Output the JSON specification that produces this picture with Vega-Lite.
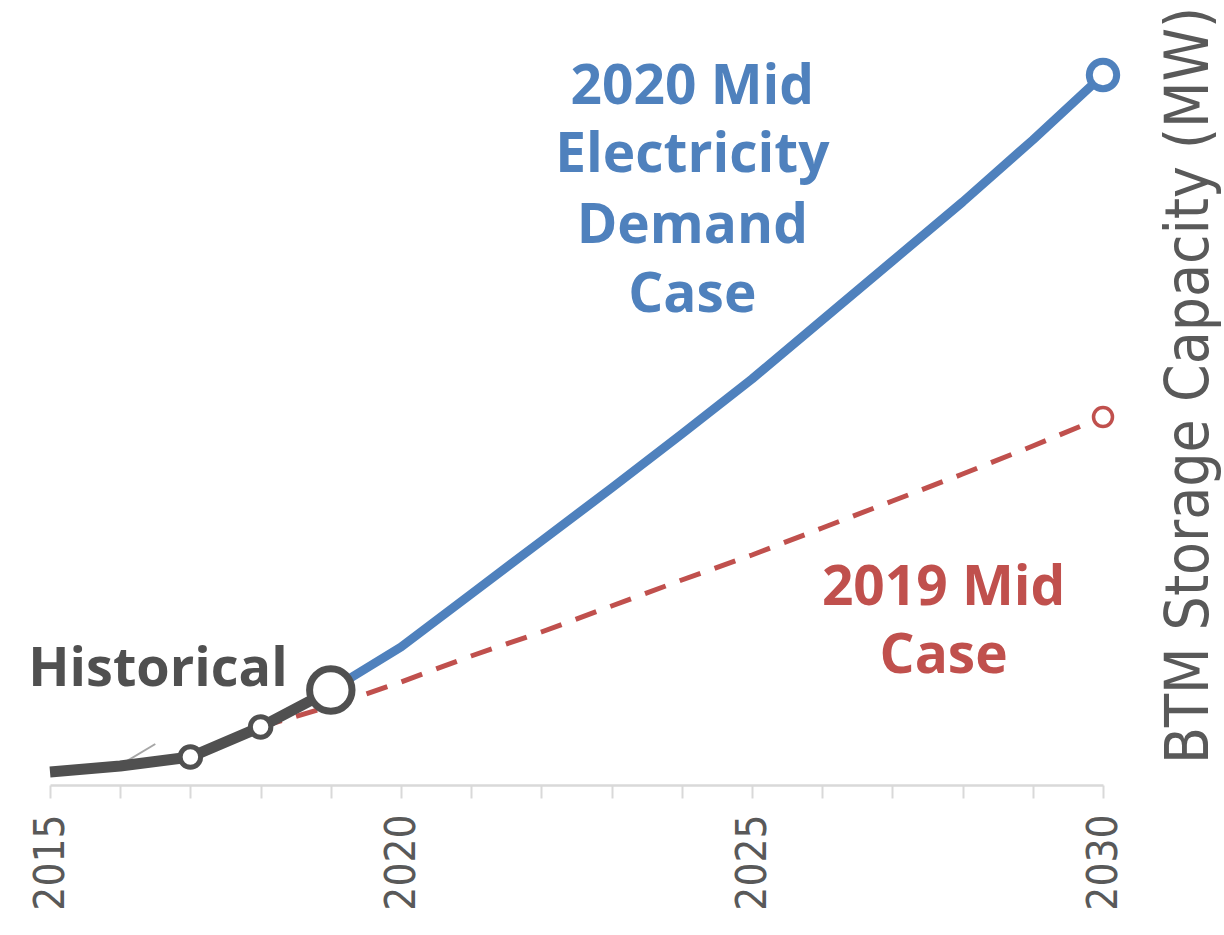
{
  "$schema": "https://vega.github.io/schema/vega-lite/v6.json",
  "autosize": "none",
  "width": 1053,
  "height": 730,
  "padding": {"left": 50, "top": 55, "right": 121, "bottom": 150},
  "background": "white",
  "config": {"view": {"stroke": null}},
  "datasets": {
    "series": [
      {"series": "Historical", "year": 2015, "value": 130},
      {"series": "Historical", "year": 2016, "value": 190},
      {"series": "Historical", "year": 2017, "value": 280},
      {"series": "Historical", "year": 2018, "value": 580},
      {"series": "Historical", "year": 2019, "value": 950},
      {"series": "2020 Mid Electricity Demand Case", "year": 2019, "value": 950},
      {"series": "2020 Mid Electricity Demand Case", "year": 2020, "value": 1380},
      {"series": "2020 Mid Electricity Demand Case", "year": 2021, "value": 1910},
      {"series": "2020 Mid Electricity Demand Case", "year": 2022, "value": 2440},
      {"series": "2020 Mid Electricity Demand Case", "year": 2023, "value": 2970},
      {"series": "2020 Mid Electricity Demand Case", "year": 2024, "value": 3510},
      {"series": "2020 Mid Electricity Demand Case", "year": 2025, "value": 4060},
      {"series": "2020 Mid Electricity Demand Case", "year": 2026, "value": 4650},
      {"series": "2020 Mid Electricity Demand Case", "year": 2027, "value": 5240},
      {"series": "2020 Mid Electricity Demand Case", "year": 2028, "value": 5830},
      {"series": "2020 Mid Electricity Demand Case", "year": 2029, "value": 6450},
      {"series": "2020 Mid Electricity Demand Case", "year": 2030, "value": 7100},
      {"series": "2019 Mid Case", "year": 2018, "value": 580},
      {"series": "2019 Mid Case", "year": 2019, "value": 790},
      {"series": "2019 Mid Case", "year": 2020, "value": 1030},
      {"series": "2019 Mid Case", "year": 2021, "value": 1290},
      {"series": "2019 Mid Case", "year": 2022, "value": 1530},
      {"series": "2019 Mid Case", "year": 2023, "value": 1790},
      {"series": "2019 Mid Case", "year": 2024, "value": 2050},
      {"series": "2019 Mid Case", "year": 2025, "value": 2300},
      {"series": "2019 Mid Case", "year": 2026, "value": 2570},
      {"series": "2019 Mid Case", "year": 2027, "value": 2840},
      {"series": "2019 Mid Case", "year": 2028, "value": 3110},
      {"series": "2019 Mid Case", "year": 2029, "value": 3390},
      {"series": "2019 Mid Case", "year": 2030, "value": 3680},
      {"series": "Other", "year": 2016, "value": 200},
      {"series": "Other", "year": 2016.5, "value": 410}
    ],
    "labels": [
      {"group": "blue", "text": "2020 Mid", "year": 2024.15, "value": 6810},
      {"group": "blue", "text": "Electricity", "year": 2024.15, "value": 6130},
      {"group": "blue", "text": "Demand", "year": 2024.15, "value": 5420},
      {"group": "blue", "text": "Case", "year": 2024.15, "value": 4730},
      {"group": "red", "text": "2019 Mid", "year": 2027.73, "value": 1800},
      {"group": "red", "text": "Case", "year": 2027.73, "value": 1120}
    ],
    "hist_label": [
      {"text": "Historical", "year": 2014.69, "value": 990}
    ]
  },
  "encoding": {
    "x": {
      "field": "year", "type": "quantitative",
      "scale": {"domain": [2015, 2030], "nice": false, "zero": false},
      "axis": {
        "title": null,
        "values": [2015,2016,2017,2018,2019,2020,2021,2022,2023,2024,2025,2026,2027,2028,2029,2030],
        "format": "d",
        "labelExpr": "datum.value % 5 === 0 ? datum.label : ''",
        "labelAngle": -90,
        "labelAlign": "right",
        "labelBaseline": "middle",
        "labelFont": "DejaVu Sans Condensed, DejaVu Sans",
        "labelFontSize": 42,
        "labelColor": "#595959",
        "labelPadding": 16,
        "labelOverlap": false,
        "labelFlush": false,
        "grid": false,
        "domainColor": "#d9d9d9",
        "domainWidth": 2.5,
        "tickColor": "#d9d9d9",
        "tickWidth": 2,
        "tickSize": 13
      }
    },
    "y": {
      "field": "value", "type": "quantitative",
      "scale": {"domain": [0, 7300], "nice": false},
      "axis": {
        "orient": "right",
        "title": "BTM Storage Capacity (MW)",
        "titleFont": "DejaVu Sans Condensed, DejaVu Sans",
        "titleFontSize": 60,
        "titleFontWeight": "normal",
        "titleColor": "#595959",
        "titleAngle": -90,
        "titleAlign": "center",
        "titleBaseline": "middle",
        "titleX": 86,
        "titleY": 330,
        "labels": false,
        "ticks": false,
        "domain": false,
        "grid": false
      }
    }
  },
  "layer": [
    {
      "data": {"name": "series"},
      "transform": [{"filter": "datum.series === 'Other'"}],
      "mark": {"type": "line", "color": "#a6a6a6", "strokeWidth": 2},
      "encoding": {}
    },
    {
      "data": {"name": "series"},
      "transform": [{"filter": "datum.series === '2019 Mid Case'"}],
      "mark": {"type": "line", "color": "#c0504d", "strokeWidth": 5, "strokeDash": [22, 15]},
      "encoding": {}
    },
    {
      "data": {"name": "series"},
      "transform": [{"filter": "datum.series === '2020 Mid Electricity Demand Case'"}],
      "mark": {"type": "line", "color": "#4f81bd", "strokeWidth": 9, "strokeJoin": "round"},
      "encoding": {}
    },
    {
      "data": {"name": "series"},
      "transform": [{"filter": "datum.series === 'Historical'"}],
      "mark": {"type": "line", "color": "#505050", "strokeWidth": 11, "strokeCap": "butt", "strokeJoin": "round"},
      "encoding": {}
    },
    {
      "data": {"name": "series"},
      "transform": [{"filter": "datum.series === 'Historical' && (datum.year === 2017 || datum.year === 2018)"}],
      "mark": {"type": "point", "shape": "circle", "filled": false, "fill": "white", "fillOpacity": 1, "stroke": "#505050", "strokeWidth": 5, "size": 420, "opacity": 1}
    },
    {
      "data": {"name": "series"},
      "transform": [{"filter": "datum.series === 'Historical' && datum.year === 2019"}],
      "mark": {"type": "point", "shape": "circle", "filled": false, "fill": "white", "fillOpacity": 1, "stroke": "#505050", "strokeWidth": 7, "size": 1800, "opacity": 1}
    },
    {
      "data": {"name": "series"},
      "transform": [{"filter": "datum.series === '2020 Mid Electricity Demand Case' && datum.year === 2030"}],
      "mark": {"type": "point", "shape": "circle", "filled": false, "fill": "white", "fillOpacity": 1, "stroke": "#4f81bd", "strokeWidth": 7, "size": 750, "opacity": 1}
    },
    {
      "data": {"name": "series"},
      "transform": [{"filter": "datum.series === '2019 Mid Case' && datum.year === 2030"}],
      "mark": {"type": "point", "shape": "circle", "filled": false, "fill": "white", "fillOpacity": 1, "stroke": "#c0504d", "strokeWidth": 3.5, "size": 360, "opacity": 1}
    },
    {
      "data": {"name": "labels"},
      "mark": {"type": "text", "font": "Open Sans", "fontWeight": "bold", "fontSize": 55, "align": "center", "baseline": "alphabetic"},
      "encoding": {
        "text": {"field": "text", "type": "nominal"},
        "color": {"field": "group", "type": "nominal", "scale": {"domain": ["blue", "red"], "range": ["#4f81bd", "#c0504d"]}, "legend": null}
      }
    },
    {
      "data": {"name": "hist_label"},
      "mark": {"type": "text", "font": "Open Sans", "fontWeight": "bold", "fontSize": 54, "align": "left", "baseline": "alphabetic", "color": "#505050"},
      "encoding": {
        "text": {"field": "text", "type": "nominal"}
      }
    }
  ]
}
